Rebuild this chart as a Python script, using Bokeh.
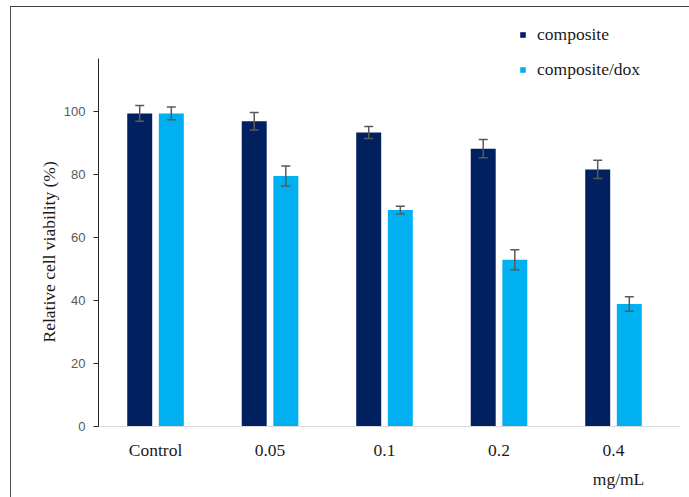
from bokeh.plotting import figure
from bokeh.models import (ColumnDataSource, Whisker, TeeHead, Legend, LegendItem,
                          FixedTicker, Range1d, LinearAxis, InlineStyleSheet, Title)
from bokeh.transform import dodge
from bokeh.embed import file_html
from bokeh.resources import INLINE

# Cell viability (%) after treatment, mean and error per dose
doses = ["Control", "0.05", "0.1", "0.2", "0.4"]
composite = [99.5, 97.0, 93.4, 88.3, 81.7]
composite_err = [2.5, 2.8, 1.9, 2.9, 2.9]
composite_dox = [99.5, 79.6, 68.8, 53.0, 38.9]
composite_dox_err = [2.0, 3.2, 1.2, 3.2, 2.3]
y_ticks = [0, 20, 40, 60, 80, 100]
y_label = "Relative cell viability (%)"
unit_label = "mg/mL"

DARK = "#002060"
LIGHT = "#00B0F0"
SERIF = "Liberation Serif"
SERIF_SIZE = "17.5px"
TEXT = "#1a1a1a"

xs = list(range(len(doses)))


def series_source(vals, errs):
    return ColumnDataSource(dict(
        x=xs,
        top=vals,
        upper=[v + e for v, e in zip(vals, errs)],
        lower=[v - e for v, e in zip(vals, errs)],
    ))


src_a = series_source(composite, composite_err)
src_b = series_source(composite_dox, composite_dox_err)

p = figure(width=689, height=497,
           x_range=Range1d(-0.498, 4.585), y_range=Range1d(0, 132.2),
           output_backend="svg", toolbar_location=None,
           min_border_left=98, min_border_right=9,
           min_border_top=10, min_border_bottom=71)
p.outline_line_color = None
p.xgrid.visible = False
p.ygrid.visible = False
p.background_fill_color = "white"
p.border_fill_color = "white"

# thin frame along the top and left edges of the page
p.stylesheets = [InlineStyleSheet(css="""
:host::after {
  content: "";
  position: absolute;
  left: 10px; top: 6px; right: -20px; bottom: -20px;
  border-top: 1px solid #404040;
  border-left: 1px solid #505050;
  pointer-events: none;
}
""")]

OFF = 0.138
W = 0.218
r_a = p.vbar(x=dodge("x", -OFF, range=p.x_range), top="top", width=W,
             source=src_a, fill_color=DARK, line_color=None)
r_b = p.vbar(x=dodge("x", OFF, range=p.x_range), top="top", width=W,
             source=src_b, fill_color=LIGHT, line_color=None)

for src, off in ((src_a, -OFF), (src_b, OFF)):
    w = Whisker(source=src, base=dodge("x", off, range=p.x_range),
                upper="upper", lower="lower", level="overlay",
                line_color="#595959", line_width=1.5,
                upper_head=TeeHead(size=9, line_color="#595959", line_width=1.5),
                lower_head=TeeHead(size=9, line_color="#595959", line_width=1.5))
    p.add_layout(w)

# x axis: dose labels, light baseline, no ticks
xa = p.xaxis[0]
xa.ticker = FixedTicker(ticks=xs)
xa.major_label_overrides = {i: d for i, d in zip(xs, doses)}
xa.major_tick_line_color = None
xa.minor_tick_line_color = None
xa.axis_line_color = "#d9d9d9"
xa.axis_line_width = 1
xa.major_label_text_font = SERIF
xa.major_label_text_font_size = SERIF_SIZE
xa.major_label_text_color = TEXT
xa.major_label_standoff = 7

# unit caption under the last dose
unit_pos = 4.044
ua = LinearAxis(ticker=FixedTicker(ticks=[unit_pos]),
                major_label_overrides={unit_pos: unit_label})
ua.axis_line_color = None
ua.major_tick_line_color = None
ua.minor_tick_line_color = None
ua.major_label_text_font = SERIF
ua.major_label_text_font_size = SERIF_SIZE
ua.major_label_text_color = TEXT
ua.major_label_standoff = 0
p.add_layout(ua, "below")

# y axis, its line stopping a little above the last tick
ya = p.yaxis[0]
ya.ticker = FixedTicker(ticks=y_ticks)
ya.bounds = (0, 117)
ya.minor_tick_line_color = None
ya.major_tick_in = 0
ya.major_tick_out = 5
ya.major_tick_line_color = "#262626"
ya.axis_line_color = "#262626"
ya.major_label_text_font = "Liberation Sans"
ya.major_label_text_font_size = "13px"
ya.major_label_text_color = "#595959"
ya.major_label_standoff = 8

# y caption, centred along the drawn axis line
p.add_layout(Title(text=y_label, align="left", offset=84, standoff=4,
                   text_font=SERIF, text_font_size=SERIF_SIZE,
                   text_font_style="normal", text_color=TEXT), "left")

legend = Legend(items=[LegendItem(label="composite", renderers=[r_a]),
                       LegendItem(label="composite/dox", renderers=[r_b])],
                location=(421, 346), orientation="vertical",
                glyph_width=7, glyph_height=7, label_height=20,
                label_standoff=11, spacing=14, padding=0, margin=0,
                border_line_color=None, background_fill_alpha=0,
                label_text_font=SERIF, label_text_font_size=SERIF_SIZE,
                label_text_color=TEXT)
p.add_layout(legend)

open("out.html", "w").write(file_html(p, INLINE))
